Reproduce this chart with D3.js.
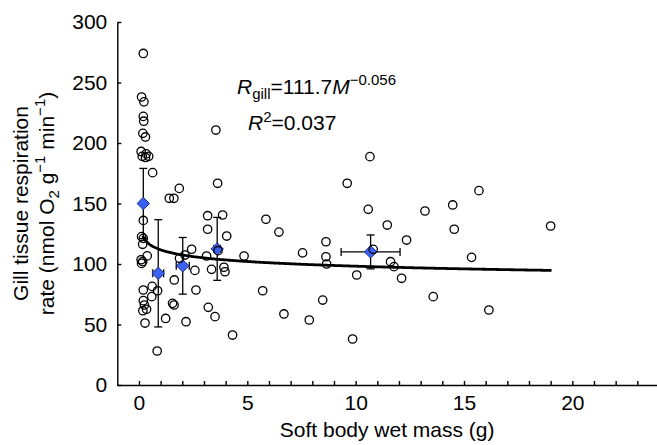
<!DOCTYPE html>
<html>
<head>
<meta charset="utf-8">
<script src="https://cdn.jsdelivr.net/npm/d3@7"></script>
<style>
  body { margin: 0; background: #fff; }
  svg { display: block; font-family: "Liberation Sans", Arial, sans-serif; }
</style>
</head>
<body>
<div id="chart"></div>
<script>
// Individual measurements: soft body wet mass (g) and gill respiration rate
const massValues = [
    0.2, 0.12, 0.23, 0.2, 0.22, 0.18, 0.3, 0.1, 0.33, 0.15, 0.3, 0.45, 0.63,
    1.86, 1.4, 1.61, 3.63, 3.55, 0.2, 0.12, 0.2, 0.17, 0.38, 0.1, 0.17, 0.12,
    0.2, 0.61, 0.86, 0.59, 0.2, 0.25, 0.18, 0.35, 0.28, 0.84, 1.23, 1.55, 1.62,
    1.63, 2.17, 2.63, 3.2, 3.51, 4.32, 5.71, 6.69, 3.17, 3.86, 3.17, 4.05, 3.12,
    2.43, 2.12, 1.87, 2.58, 3.35, 3.92, 3.97, 3.65, 4.85, 5.86, 6.46, 7.55,
    10.66, 9.61, 15.69, 10.58, 13.2, 14.48, 14.55, 11.46, 12.35, 8.63, 8.63,
    8.66, 10.81, 11.61, 11.77, 15.35, 10.05, 12.12, 8.48, 7.86, 9.86, 13.58,
    16.15, 19.0
];
const rateValues = [
    274, 238, 234, 222, 218, 208, 205, 193, 191, 189, 188, 189, 175.5,
    162.5, 154.3, 154.3, 166.7, 210.7, 136, 122.6, 121.2, 116.3, 106.7, 103.5, 102, 100.5,
    78.5, 81.5, 77.9, 73, 69.7, 66.1, 61.4, 62.6, 51.2, 28.1, 55, 67.5, 66.1,
    86.8, 52.3, 78.5, 64.2, 56.5, 41.3, 77.9, 58.7, 139.9, 140.5, 128.7, 123.1, 106.6,
    112.2, 107.4, 104.7, 94.7, 95.6, 97.3, 93.6, 111, 106.6, 137, 126.4, 109.2,
    188.7, 166.7, 160.6, 145.2, 143.8, 148.8, 128.7, 132.2, 119.8, 118.4, 106,
    100, 112.1, 101.9, 97.8, 105.5, 90.9, 88.2, 70.2, 53.7, 38, 73,
    62, 131.4
];

// Group means with error bars
const groupMass = [0.2, 0.89, 2.02, 3.61, 10.69];
const groupMassErr = [0.05, 0.25, 0.3, 0.15, 1.36];
const groupRate = [150, 92.3, 98.5, 112.5, 110];
const groupRateErr = [29, 44.3, 23.4, 26, 14];

// Power fit R = a * M^b (from the equation on the chart)
const fitA = 111.7;
const fitB = -0.056;
const fitRange = [0.17, 19.04];

const xTicks = d3.range(0, 24);
const xLabels = [0, 5, 10, 15, 20];
const yTicks = [0, 50, 100, 150, 200, 250, 300];

const margin = { top: 22, right: 0, bottom: 60, left: 117.3 },
    width = 657 - margin.left - margin.right,
    height = 445 - margin.top - margin.bottom;

const svg = d3.select("#chart").append("svg")
    .attr("width", 657)
    .attr("height", 445)
    .append("g")
    .attr("transform", `translate(${margin.left},${margin.top})`);

const x = d3.scaleLinear().domain([-1, 24]).range([0, 541.7]);
const y = d3.scaleLinear().domain([0, 300]).range([363, 0]);

// axes
const xAxis = svg.append("g")
    .attr("transform", `translate(0,${height})`)
    .call(d3.axisBottom(x)
        .tickValues(xTicks)
        .tickSize(-4)
        .tickSizeOuter(0)
        .tickPadding(10)
        .tickFormat(d => xLabels.includes(d) ? d : ""));

const yAxis = svg.append("g")
    .call(d3.axisLeft(y)
        .tickValues(yTicks)
        .tickSize(-4)
        .tickSizeOuter(0)
        .tickPadding(10));

[xAxis, yAxis].forEach(g => {
    g.attr("font-family", "Liberation Sans, Arial, sans-serif").attr("font-size", 21);
    g.selectAll("path, line").attr("stroke", "#000").attr("stroke-width", 1.4);
    g.selectAll("text").attr("fill", "#000");
});

// fitted curve
const fitData = d3.range(fitRange[0], fitRange[1], 0.05).concat([fitRange[1]])
    .map(m => ({ m: m, r: fitA * Math.pow(m, fitB) }));

svg.append("path")
    .datum(fitData)
    .attr("fill", "none")
    .attr("stroke", "#000")
    .attr("stroke-width", 2.8)
    .attr("d", d3.line().x(d => x(d.m)).y(d => y(d.r)));

// error bars
const groups = groupMass.map((m, i) => ({
    m: m, mErr: groupMassErr[i], r: groupRate[i], rErr: groupRateErr[i]
}));
const cap = 4;
const eb = svg.append("g").attr("stroke", "#000").attr("stroke-width", 1.3);
groups.forEach(d => {
    eb.append("line")
        .attr("x1", x(d.m)).attr("x2", x(d.m))
        .attr("y1", y(d.r - d.rErr)).attr("y2", y(d.r + d.rErr));
    eb.append("line")
        .attr("x1", x(d.m) - cap).attr("x2", x(d.m) + cap)
        .attr("y1", y(d.r + d.rErr)).attr("y2", y(d.r + d.rErr));
    eb.append("line")
        .attr("x1", x(d.m) - cap).attr("x2", x(d.m) + cap)
        .attr("y1", y(d.r - d.rErr)).attr("y2", y(d.r - d.rErr));
    eb.append("line")
        .attr("x1", x(d.m - d.mErr)).attr("x2", x(d.m + d.mErr))
        .attr("y1", y(d.r)).attr("y2", y(d.r));
    eb.append("line")
        .attr("x1", x(d.m - d.mErr)).attr("x2", x(d.m - d.mErr))
        .attr("y1", y(d.r) - cap).attr("y2", y(d.r) + cap);
    eb.append("line")
        .attr("x1", x(d.m + d.mErr)).attr("x2", x(d.m + d.mErr))
        .attr("y1", y(d.r) - cap).attr("y2", y(d.r) + cap);
});

// group means as diamonds
svg.selectAll(".mean")
    .data(groups)
    .join("path")
    .attr("class", "mean")
    .attr("d", "M0,-6.2L6.2,0L0,6.2L-6.2,0Z")
    .attr("transform", d => `translate(${x(d.m)},${y(d.r)})`)
    .attr("fill", "#3a62f2")
    .attr("stroke", "#1c2a8c")
    .attr("stroke-width", 1);

// individual points
const points = massValues.map((m, i) => ({ m: m, r: rateValues[i] }));
svg.selectAll(".pt")
    .data(points)
    .join("circle")
    .attr("class", "pt")
    .attr("cx", d => x(d.m))
    .attr("cy", d => y(d.r))
    .attr("r", 4.2)
    .attr("fill", "none")
    .attr("stroke", "#000")
    .attr("stroke-width", 1.3);

// equation text
const eq = svg.append("text")
    .attr("x", 237 - margin.left)
    .attr("y", 94 - margin.top)
    .attr("font-size", 21);
eq.append("tspan").attr("font-style", "italic").text("R");
eq.append("tspan").attr("font-size", 15).attr("dy", 5).text("gill");
eq.append("tspan").attr("dy", -5).text("=111.7");
eq.append("tspan").attr("font-style", "italic").text("M");
eq.append("tspan").attr("font-size", 15).attr("dy", -9).text("\u22120.056");

const r2 = svg.append("text")
    .attr("x", 248 - margin.left)
    .attr("y", 130 - margin.top)
    .attr("font-size", 21);
r2.append("tspan").attr("font-style", "italic").text("R");
r2.append("tspan").attr("font-size", 15).attr("dy", -8).text("2");
r2.append("tspan").attr("dy", 8).text("=0.037");

// axis titles
svg.append("text")
    .attr("x", width / 2)
    .attr("y", 437 - margin.top)
    .attr("text-anchor", "middle")
    .attr("font-size", 21)
    .text("Soft body wet mass (g)");

const yt1 = svg.append("text")
    .attr("transform", `translate(${28 - margin.left},${height / 2}) rotate(-90)`)
    .attr("text-anchor", "middle")
    .attr("font-size", 21)
    .text("Gill tissue respiration");

const yt2 = svg.append("text")
    .attr("transform", `translate(${54 - margin.left},${height / 2}) rotate(-90)`)
    .attr("text-anchor", "middle")
    .attr("font-size", 21);
yt2.append("tspan").text("rate (nmol O");
yt2.append("tspan").attr("font-size", 15).attr("dy", 5).text("2");
yt2.append("tspan").attr("dy", -5).text(" g");
yt2.append("tspan").attr("font-size", 15).attr("dy", -9).text("\u22121");
yt2.append("tspan").attr("dy", 9).text(" min");
yt2.append("tspan").attr("font-size", 15).attr("dy", -9).text("\u22121");
yt2.append("tspan").attr("dy", 9).text(")");
</script>
</body>
</html>
